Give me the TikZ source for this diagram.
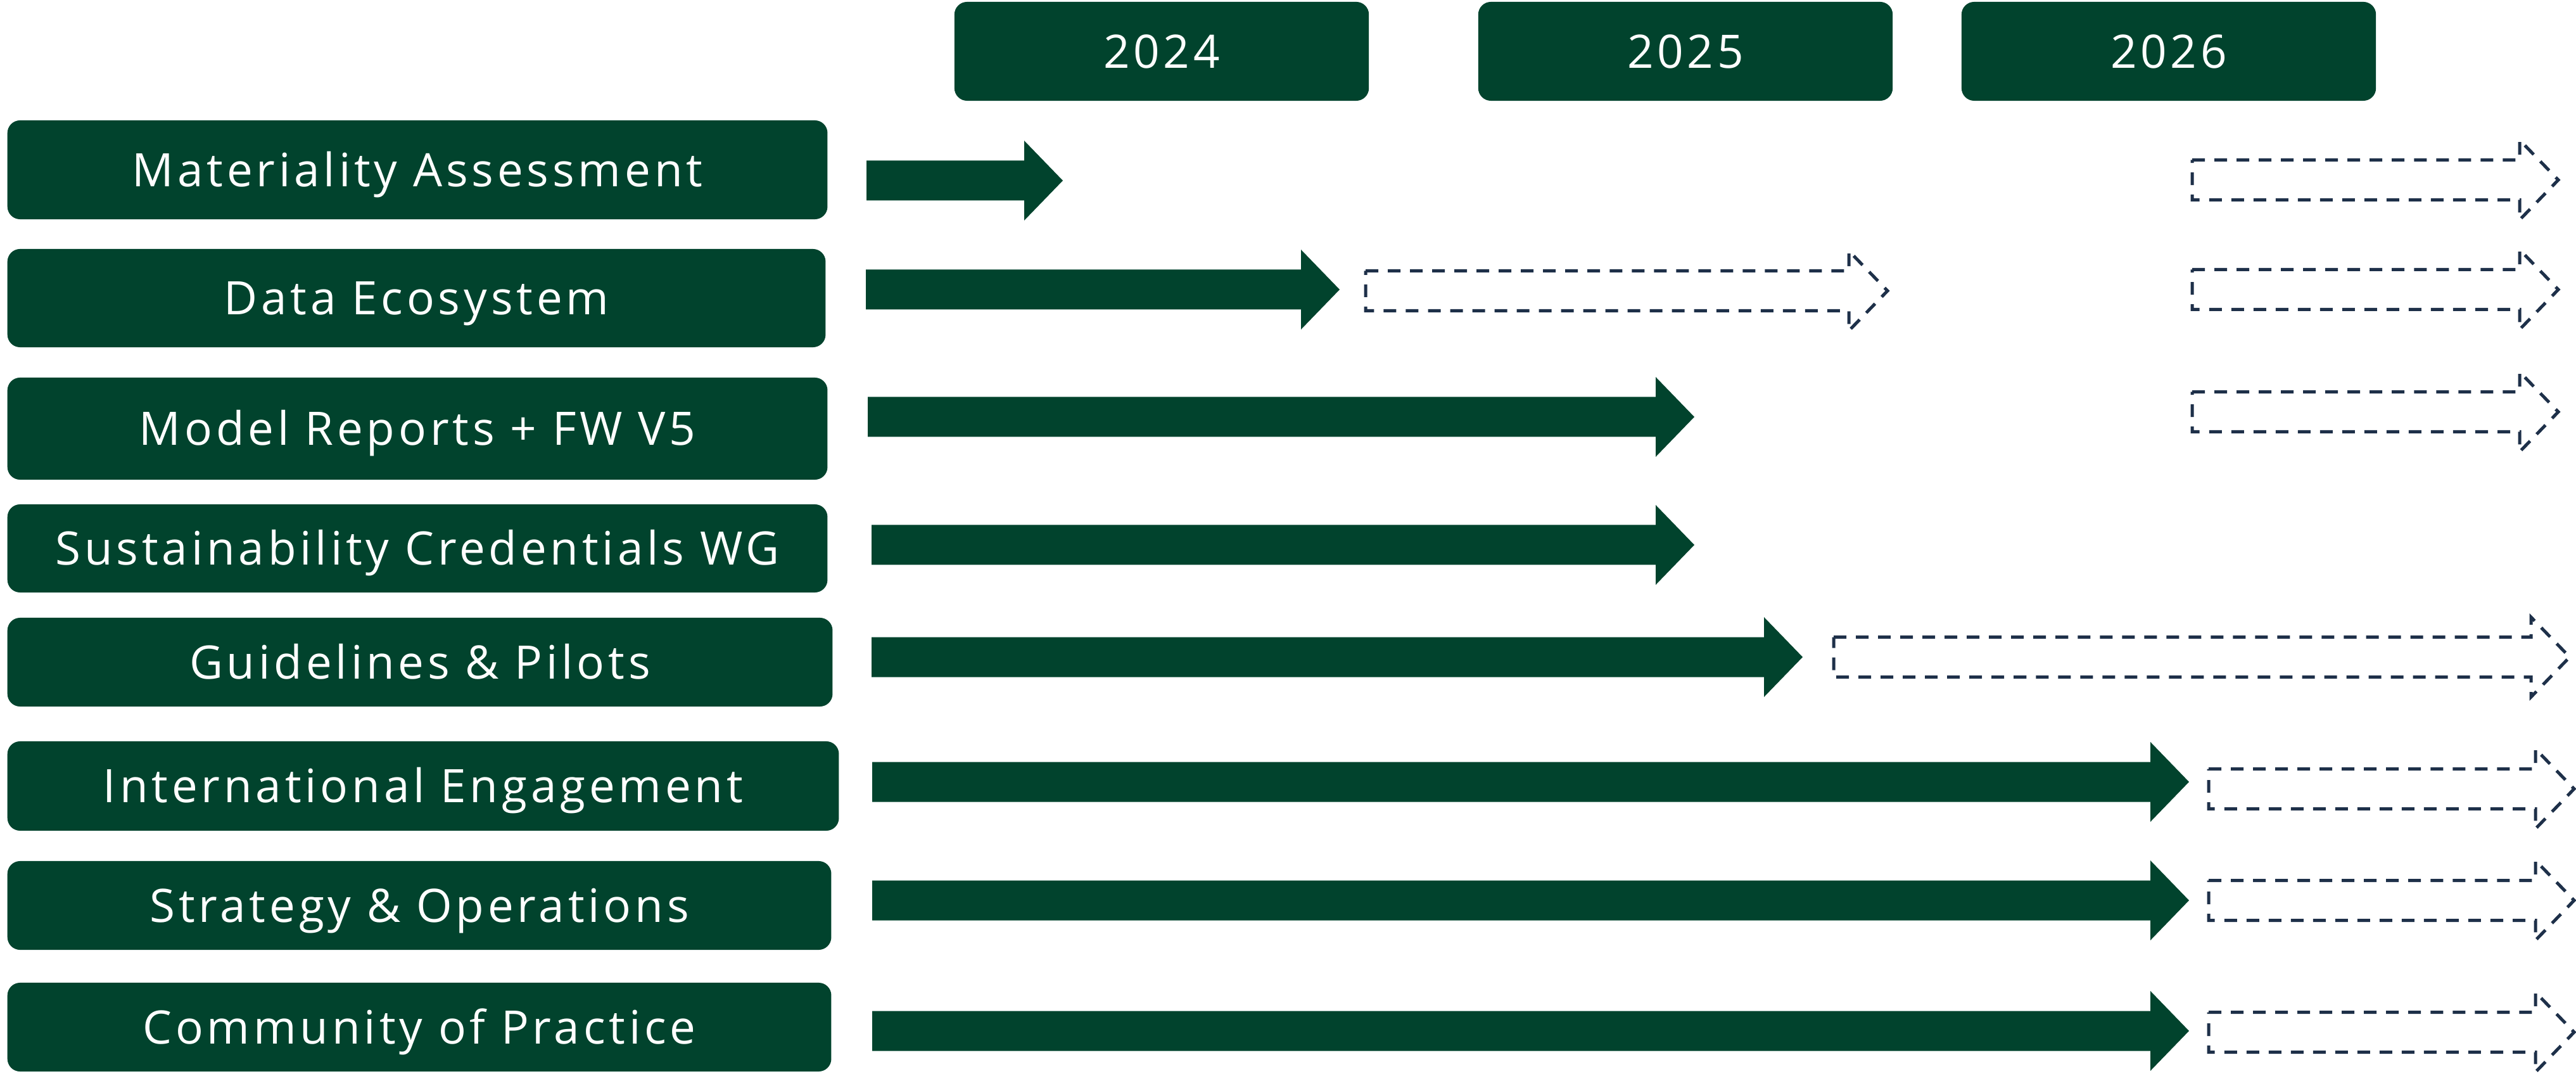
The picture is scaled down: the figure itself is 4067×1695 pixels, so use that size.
\documentclass[tikz,border=0pt]{standalone}
\usepackage{fontspec}
\setmainfont{Open Sans}
\newfontfamily\stagefont{Open Sans}[LetterSpace=8]
\usetikzlibrary{positioning}
\definecolor{roadgreen}{HTML}{01432D}
\definecolor{plannavy}{HTML}{1E3049}
\tikzset{
  stage/.style   = {shape=rectangle, rounded corners=0.2cm, fill=roadgreen,
                    text=white, inner sep=0pt, align=center,
                    text height=0.52cm, text depth=0pt,
                    font=\stagefont\fontsize{20.7}{24}\selectfont},
  yearbox/.style = {stage, minimum width=6.54cm, minimum height=1.56cm},
  taskbox/.style = {stage, anchor=west},
  done/.style    = {fill=roadgreen},
  planned/.style = {draw=plannavy, line width=0.05cm,
                    dash pattern=on 0.2cm off 0.15cm},
}
% bar arrow: style, centre y, start x, tip x
\newcommand{\phase}[4]{%
  \path[#1] (#3,#2-31.5) -- (#4-61,#2-31.5) -- (#4-61,#2-63) -- (#4,#2)
    -- (#4-61,#2+63) -- (#4-61,#2+31.5) -- (#3,#2+31.5) -- cycle;}

\begin{document}
\begin{tikzpicture}[x=0.01cm, y=-0.01cm]
    \useasboundingbox (0,0) rectangle (4067,1695);

    % years
    \node [yearbox] (y2024) at (1834,81) {2024};
    \node [yearbox] (y2025) at (2661,81) {2025};
    \node [yearbox] (y2026) at (3424,81) {2026};

    % work streams
    \node [taskbox, minimum width=12.94cm, minimum height=1.56cm] (mat) at (11,268) {Materiality Assessment};
    \node [taskbox, minimum width=12.91cm, minimum height=1.55cm] (data) at (11,470.5) {Data Ecosystem};
    \node [taskbox, minimum width=12.94cm, minimum height=1.61cm] (model) at (11,676.5) {Model Reports + FW V5};
    \node [taskbox, minimum width=12.94cm, minimum height=1.39cm] (cred) at (11,865.5) {Sustainability Credentials WG};
    \node [taskbox, minimum width=13.02cm, minimum height=1.40cm] (guide) at (11,1045) {Guidelines \& Pilots};
    \node [taskbox, minimum width=13.12cm, minimum height=1.41cm] (intl) at (11,1240.5) {International Engagement};
    \node [taskbox, minimum width=13.00cm, minimum height=1.40cm] (strat) at (11,1429) {Strategy \& Operations};
    \node [taskbox, minimum width=13.00cm, minimum height=1.40cm] (comm) at (11,1621) {Community of Practice};

    % done so far
    \phase{done}{285}{1368}{1678}
    \phase{done}{457}{1367}{2115}
    \phase{done}{658}{1370}{2675}
    \phase{done}{860}{1376}{2675}
    \phase{done}{1037}{1376}{2846}
    \phase{done}{1234}{1377}{3456}
    \phase{done}{1421}{1377}{3456}
    \phase{done}{1627}{1377}{3456}

    % still planned
    \phase{planned}{284}{3461}{4039}
    \phase{planned}{459}{2156}{2980}
    \phase{planned}{457}{3461}{4039}
    \phase{planned}{650}{3461}{4039}
    \phase{planned}{1037}{2895}{4057}
    \phase{planned}{1245}{3487}{4064}
    \phase{planned}{1421}{3487}{4064}
    \phase{planned}{1629}{3487}{4064}
\end{tikzpicture}
\end{document}
